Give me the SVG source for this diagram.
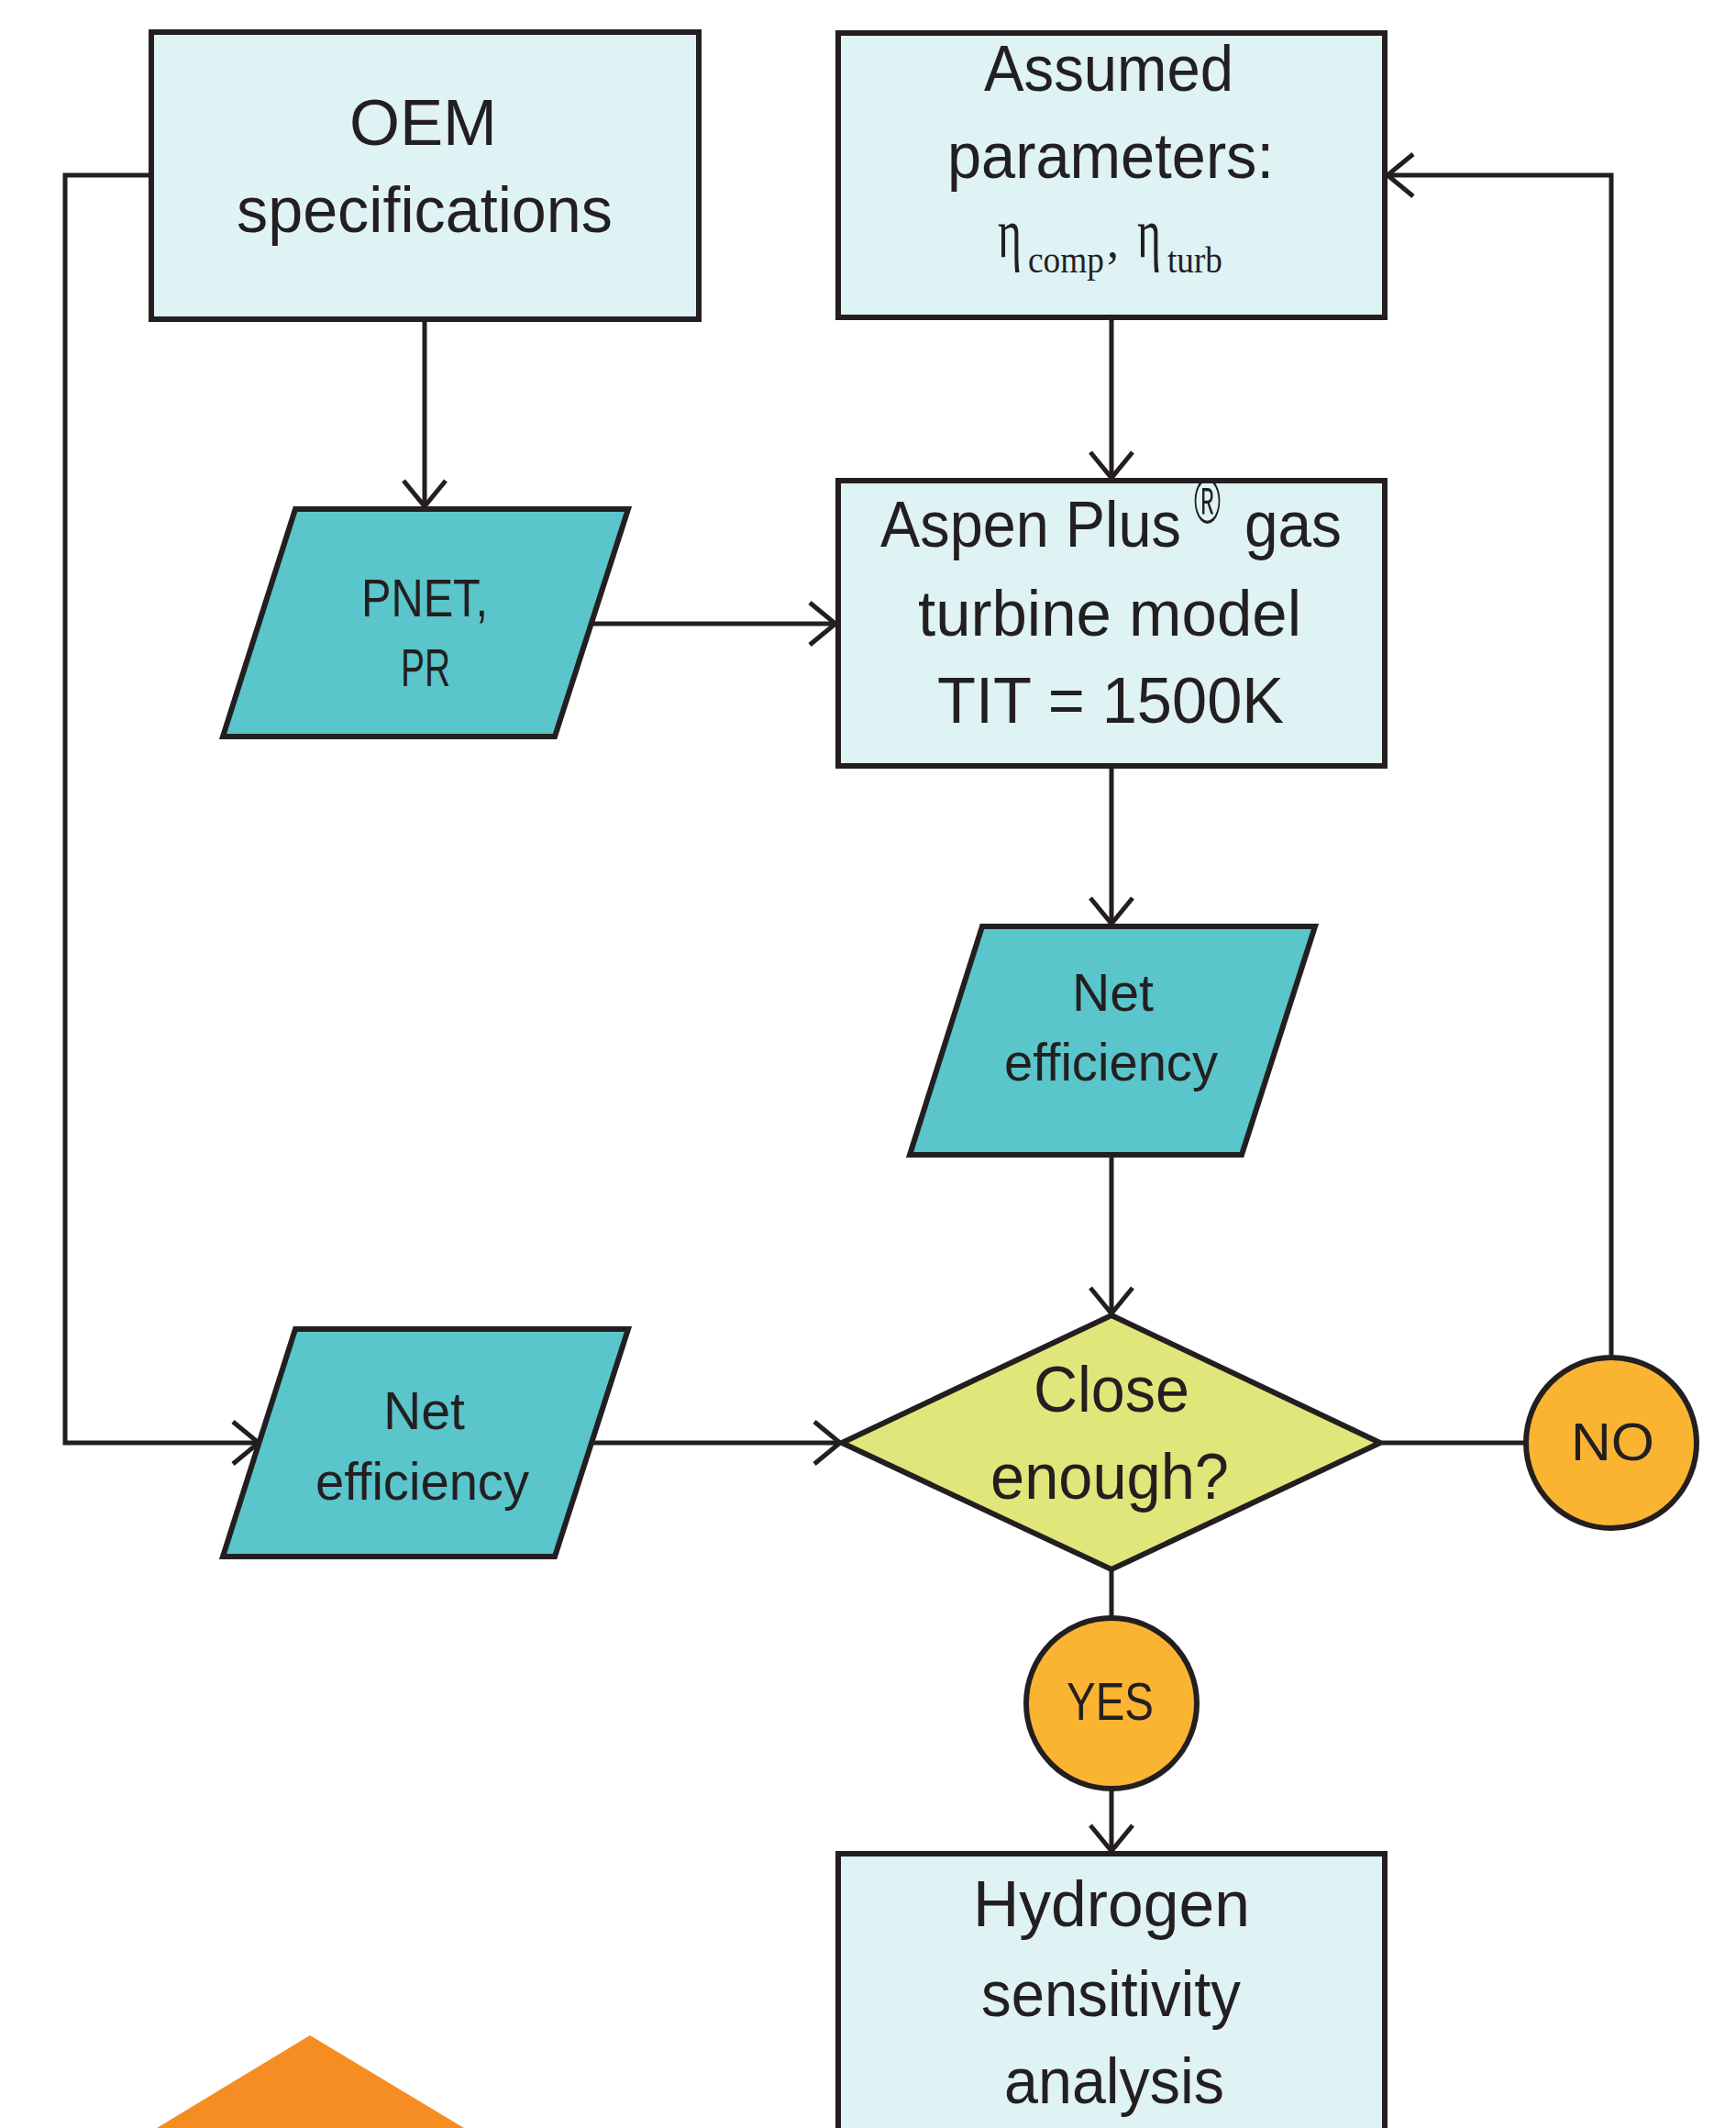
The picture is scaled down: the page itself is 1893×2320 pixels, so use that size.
<svg xmlns="http://www.w3.org/2000/svg" width="1893" height="2320" viewBox="0 0 1893 2320">
  <style>
    .box { fill: #DFF2F4; stroke: #231F20; stroke-width: 6; }
    .para { fill: #5AC5CA; stroke: #231F20; stroke-width: 6; stroke-linejoin: miter; }
    .dia { fill: #E1E67A; stroke: #231F20; stroke-width: 6; }
    .circ { fill: #FBB432; stroke: #231F20; stroke-width: 6; }
    .con { fill: none; stroke: #231F20; stroke-width: 5; }
    .lg { font-family: "Liberation Sans", Arial, sans-serif; font-size: 70px; fill: #231F20; }
    .sm { font-family: "Liberation Sans", Arial, sans-serif; font-size: 58px; fill: #231F20; }
    .gr { font-family: "Liberation Serif", "Times New Roman", serif; fill: #231F20; }
  </style>
  <defs>
    <marker id="arr" markerUnits="userSpaceOnUse" markerWidth="40" markerHeight="60" refX="30" refY="25" orient="auto" overflow="visible">
      <path d="M2,2 L30,25 L2,48" fill="none" stroke="#231F20" stroke-width="5"/>
    </marker>
  </defs>

  <rect width="1893" height="2320" fill="#FFFFFF"/>

  <g id="connectors">
    <path class="con" d="M463,351 V552" marker-end="url(#arr)"/>
    <path class="con" d="M1212,349 V521" marker-end="url(#arr)"/>
    <path class="con" d="M647,680 H911" marker-end="url(#arr)"/>
    <path class="con" d="M1212,838 V1007" marker-end="url(#arr)"/>
    <path class="con" d="M1212,1262 V1432" marker-end="url(#arr)"/>
    <path class="con" d="M162,191 H71 V1573 H282" marker-end="url(#arr)"/>
    <path class="con" d="M645,1573 H916" marker-end="url(#arr)"/>
    <path class="con" d="M1507,1573 H1663"/>
    <path class="con" d="M1757,1477 V191 H1513" marker-end="url(#arr)"/>
    <path class="con" d="M1212,1713 V1762"/>
    <path class="con" d="M1212,1952 V2018" marker-end="url(#arr)"/>
  </g>

  <g id="oem">
    <rect class="box" x="165" y="35" width="597" height="313"/>
    <text class="lg" x="381" y="158" textLength="161" lengthAdjust="spacingAndGlyphs">OEM</text>
    <text class="lg" x="258" y="253" textLength="410" lengthAdjust="spacingAndGlyphs">specifications</text>
  </g>

  <g id="assumed">
    <rect class="box" x="914" y="36" width="596" height="310"/>
    <text class="lg" x="1073" y="99" textLength="272" lengthAdjust="spacingAndGlyphs">Assumed</text>
    <text class="lg" x="1033" y="194" textLength="356" lengthAdjust="spacingAndGlyphs">parameters:</text>
    <text class="gr" x="1088" y="280" font-size="78" textLength="26" lengthAdjust="spacingAndGlyphs">η</text>
    <text class="gr" x="1121" y="297" font-size="40" textLength="83" lengthAdjust="spacingAndGlyphs">comp</text>
    <text class="gr" x="1207" y="280" font-size="52">,</text>
    <text class="gr" x="1240" y="280" font-size="78" textLength="26" lengthAdjust="spacingAndGlyphs">η</text>
    <text class="gr" x="1273" y="297" font-size="40" textLength="60" lengthAdjust="spacingAndGlyphs">turb</text>
  </g>

  <g id="pnet">
    <polygon class="para" points="322,555 685,555 605,803 243,803"/>
    <text class="sm" x="394" y="672" textLength="138" lengthAdjust="spacingAndGlyphs">PNET,</text>
    <text class="sm" x="437" y="748" textLength="54" lengthAdjust="spacingAndGlyphs">PR</text>
  </g>

  <g id="aspen">
    <rect class="box" x="914" y="524" width="596" height="311"/>
    <text class="lg" x="960" y="596" textLength="328" lengthAdjust="spacingAndGlyphs">Aspen Plus</text>
    <text class="lg" x="1302" y="570" font-size="36" textLength="29" lengthAdjust="spacingAndGlyphs">®</text>
    <text class="lg" x="1357" y="596" textLength="106" lengthAdjust="spacingAndGlyphs">gas</text>
    <text class="lg" x="1001" y="693" textLength="418" lengthAdjust="spacingAndGlyphs">turbine model</text>
    <text class="lg" x="1022" y="788" textLength="378" lengthAdjust="spacingAndGlyphs">TIT = 1500K</text>
  </g>

  <g id="net-eff-right">
    <polygon class="para" points="1071,1010 1434,1010 1354,1259 992,1259"/>
    <text class="sm" x="1169" y="1102" textLength="89" lengthAdjust="spacingAndGlyphs">Net</text>
    <text class="sm" x="1095" y="1178" textLength="233" lengthAdjust="spacingAndGlyphs">efficiency</text>
  </g>

  <g id="net-eff-left">
    <polygon class="para" points="322,1449 685,1449 605,1697 243,1697"/>
    <text class="sm" x="418" y="1558" textLength="89" lengthAdjust="spacingAndGlyphs">Net</text>
    <text class="sm" x="344" y="1635" textLength="233" lengthAdjust="spacingAndGlyphs">efficiency</text>
  </g>

  <g id="decision">
    <polygon class="dia" points="1212,1434 1505,1573 1212,1711 918,1573"/>
    <text class="lg" x="1127" y="1539" textLength="170" lengthAdjust="spacingAndGlyphs">Close</text>
    <text class="lg" x="1080" y="1634" textLength="260" lengthAdjust="spacingAndGlyphs">enough?</text>
  </g>

  <g id="no">
    <circle class="circ" cx="1757" cy="1573" r="93"/>
    <text class="sm" x="1713" y="1592" textLength="91" lengthAdjust="spacingAndGlyphs">NO</text>
  </g>

  <g id="yes">
    <circle class="circ" cx="1212" cy="1857" r="93"/>
    <text class="sm" x="1163" y="1875" textLength="95" lengthAdjust="spacingAndGlyphs">YES</text>
  </g>

  <g id="hydrogen">
    <rect class="box" x="914" y="2021" width="596" height="400"/>
    <text class="lg" x="1061" y="2100" textLength="302" lengthAdjust="spacingAndGlyphs">Hydrogen</text>
    <text class="lg" x="1070" y="2198" textLength="283" lengthAdjust="spacingAndGlyphs">sensitivity</text>
    <text class="lg" x="1095" y="2293" textLength="240" lengthAdjust="spacingAndGlyphs">analysis</text>
  </g>

  <g id="orange-shape">
    <polygon points="338,2219 506,2320 171,2320" fill="#F58D22"/>
  </g>
</svg>
